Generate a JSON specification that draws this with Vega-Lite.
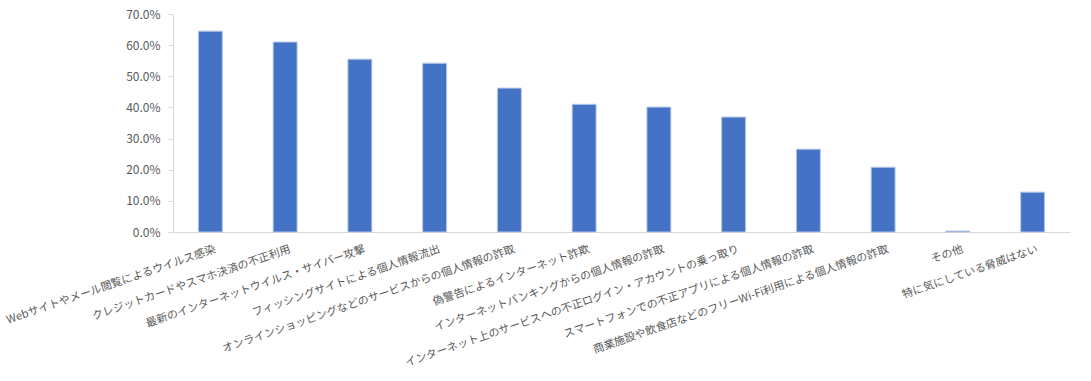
{
  "$schema": "https://vega.github.io/schema/vega-lite/v6.json",
  "autosize": {"type": "none"},
  "padding": {"left": 173, "top": 14, "right": 21, "bottom": 149},
  "width": 897,
  "height": 218,
  "background": "white",
  "config": {"view": {"stroke": null}},
  "data": {
    "values": [
      {"item": "Webサイトやメール閲覧によるウイルス感染", "value": 0.645},
      {"item": "クレジットカードやスマホ決済の不正利用", "value": 0.610},
      {"item": "最新のインターネットウイルス・サイバー攻撃", "value": 0.555},
      {"item": "フィッシングサイトによる個人情報流出", "value": 0.542},
      {"item": "オンラインショッピングなどのサービスからの個人情報の詐取", "value": 0.462},
      {"item": "偽警告によるインターネット詐欺", "value": 0.410},
      {"item": "インターネットバンキングからの個人情報の詐取", "value": 0.401},
      {"item": "インターネット上のサービスへの不正ログイン・アカウントの乗っ取り", "value": 0.369},
      {"item": "スマートフォンでの不正アプリによる個人情報の詐取", "value": 0.266},
      {"item": "商業施設や飲食店などのフリーWi-Fi利用による個人情報の詐取", "value": 0.208},
      {"item": "その他", "value": 0.003},
      {"item": "特に気にしている脅威はない", "value": 0.128}
    ]
  },
  "mark": {"type": "bar", "color": "#4472C4", "stroke": "#B4C7E7", "strokeWidth": 1},
  "encoding": {
    "x": {
      "field": "item",
      "type": "nominal",
      "sort": null,
      "scale": {"paddingInner": 0.68, "paddingOuter": 0.34},
      "axis": {
        "title": null,
        "labelAngle": -19,
        "labelAlign": "right",
        "labelBaseline": "top",
        "labelPadding": 11,
        "labelOffset": 3,
        "labelLimit": 0,
        "labelOverlap": false,
        "labelBound": false,
        "labelFont": "Noto Sans CJK JP",
        "labelFontSize": 11,
        "labelColor": "#595959",
        "ticks": false,
        "domainColor": "#D9D9D9",
        "domainWidth": 1
      }
    },
    "y": {
      "field": "value",
      "type": "quantitative",
      "scale": {"domain": [0, 0.7]},
      "axis": {
        "title": null,
        "format": ".1%",
        "values": [0, 0.1, 0.2, 0.3, 0.4, 0.5, 0.6, 0.7],
        "grid": false,
        "domainColor": "#D9D9D9",
        "tickColor": "#D9D9D9",
        "tickSize": 5,
        "labelPadding": 8,
        "labelFont": "Noto Sans CJK JP",
        "labelFontSize": 12,
        "labelColor": "#595959"
      }
    }
  }
}
